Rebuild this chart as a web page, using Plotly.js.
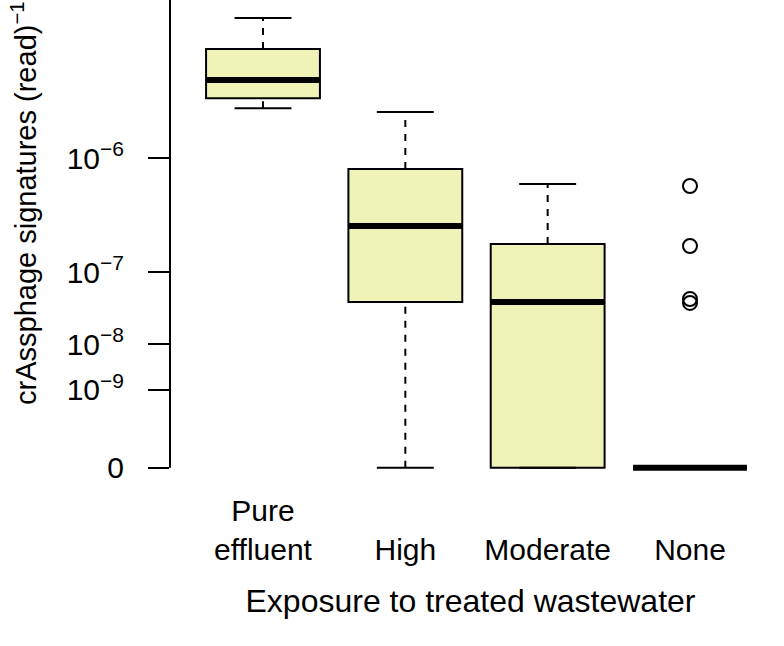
<!DOCTYPE html>
<html>
<head>
<meta charset="utf-8">
<script src="https://cdn.plot.ly/plotly-3.0.1.min.js"></script>
<style>html,body{margin:0;padding:0;background:#fff;}#chart{width:784px;height:646px;}</style>
</head>
<body>
<div id="chart"></div>
<script>
// ---- data (original units: signatures per read) ----
const categories = ["Pure effluent", "High", "Moderate", "None"];
const tickLabels = ["Pure<br>effluent", " <br>High", " <br>Moderate", " <br>None"];
const upperWhisker = [6.45e-6, 2.0e-6, 6.45e-7, 0];
const q3Values = [4.52e-6, 8.35e-7, 1.97e-7, 0];
const medianValues = [3.08e-6, 2.90e-7, 4.39e-8, 0];
const q1Values = [2.42e-6, 4.39e-8, 0, 0];
const lowerWhisker = [2.11e-6, 0, 0, 0];
const outlierGroup = ["None", "None", "None", "None"];
const outlierValues = [6.23e-7, 1.88e-7, 4.80e-8, 4.26e-8];
const yTickValues = [0, 1e-9, 1e-8, 1e-7, 1e-6];
const yTickLabels = ["0", "10<sup>\u22129</sup>", "10<sup>\u22128</sup>", "10<sup>\u22127</sup>", "10<sup>\u22126</sup>"];
const xTitle = "Exposure to treated wastewater";
const yTitle = "crAssphage signatures (read)<sup>\u22121</sup>";

// ---- scale: fifth-root transform ----
const tf = v => Math.pow(v, 0.2);
const idx = categories.map((c, i) => i);

// ---- geometry / style ----
const W = 784, H = 646;
const mL = 170, mR = 13, mT = 0, mB = 162;
const plotH = H - mT - mB, plotW = W - mL - mR;
const pxPerT = 4908, zeroPx = 467.7;
const yRange = [-(plotH - zeroPx) / pxPerT, zeroPx / pxPerT];
const catSpacing = 142.33, firstCatPx = 93;
const xRange = [-firstCatPx / catSpacing, (plotW - firstCatPx) / catSpacing];
const boxW = 0.8, capHalf = 0.2;
const FONT = "Liberation Sans, Arial, Helvetica, sans-serif";
const fill = "rgb(240,243,183)";

// whisker stems (dashed) and caps
const stemX = [], stemY = [], capX = [], capY = [], medX = [], medY = [];
idx.forEach(i => {
  if (upperWhisker[i] > q3Values[i]) { stemX.push(i, i, null); stemY.push(tf(q3Values[i]), tf(upperWhisker[i]), null); }
  if (q1Values[i] > lowerWhisker[i]) { stemX.push(i, i, null); stemY.push(tf(lowerWhisker[i]), tf(q1Values[i]), null); }
  capX.push(i - capHalf, i + capHalf, null, i - capHalf, i + capHalf, null);
  capY.push(tf(upperWhisker[i]), tf(upperWhisker[i]), null, tf(lowerWhisker[i]), tf(lowerWhisker[i]), null);
  medX.push(i - boxW / 2, i + boxW / 2, null);
  medY.push(tf(medianValues[i]), tf(medianValues[i]), null);
});

const traces = [
  {
    type: "box", x: idx,
    q1: q1Values.map(tf), median: medianValues.map(tf), q3: q3Values.map(tf),
    lowerfence: q1Values.map(tf), upperfence: q3Values.map(tf),
    width: boxW, whiskerwidth: 0, fillcolor: fill,
    line: {color: "#000", width: 2}, boxpoints: false, hoverinfo: "skip", showlegend: false
  },
  { type: "scatter", mode: "lines", x: stemX, y: stemY, line: {color: "#000", width: 2, dash: "7px,7px"}, hoverinfo: "skip", showlegend: false },
  { type: "scatter", mode: "lines", x: capX, y: capY, line: {color: "#000", width: 2}, hoverinfo: "skip", showlegend: false },
  { type: "scatter", mode: "lines", x: medX, y: medY, line: {color: "#000", width: 6}, hoverinfo: "skip", showlegend: false },
  { type: "scatter", mode: "markers", x: outlierGroup.map(g => categories.indexOf(g)), y: outlierValues.map(tf),
    marker: {symbol: "circle-open", size: 14, color: "#000", line: {width: 2, color: "#000"}}, hoverinfo: "skip", showlegend: false, cliponaxis: false }
];

const layout = {
  width: W, height: H,
  margin: {l: mL, r: mR, t: mT, b: mB},
  paper_bgcolor: "#fff", plot_bgcolor: "#fff",
  font: {family: FONT, color: "#000", size: 30},
  showlegend: false,
  xaxis: {
    range: xRange, tickvals: idx, ticktext: tickLabels,
    showgrid: false, zeroline: false, showline: false, ticks: "",
    tickfont: {family: FONT, size: 30, color: "#000"},
    ticklabelstandoff: 6,
    title: {text: xTitle, font: {family: FONT, size: 32, color: "#000"}, standoff: 24}
  },
  yaxis: {
    range: yRange, tickvals: yTickValues.map(tf), ticktext: yTickLabels,
    showgrid: false, zeroline: false, showline: false,
    ticks: "outside", ticklen: 21, tickwidth: 2, tickcolor: "#000",
    tickfont: {family: FONT, size: 30, color: "#000"},
    ticklabelstandoff: 18
  },
  shapes: [
    {type: "line", xref: "paper", yref: "y", x0: 0, x1: 0, y0: 0, y1: yRange[1] + 0.01, line: {color: "#000", width: 2}}
  ],
  annotations: [
    {text: yTitle, textangle: -90, xref: "paper", yref: "paper",
     x: (24 - mL) / plotW, y: (plotH - 203) / plotH, xanchor: "center", yanchor: "middle",
     showarrow: false, font: {family: FONT, size: 29, color: "#000"}}
  ]
};

Plotly.newPlot("chart", traces, layout, {staticPlot: true, displayModeBar: false});
</script>
</body>
</html>
